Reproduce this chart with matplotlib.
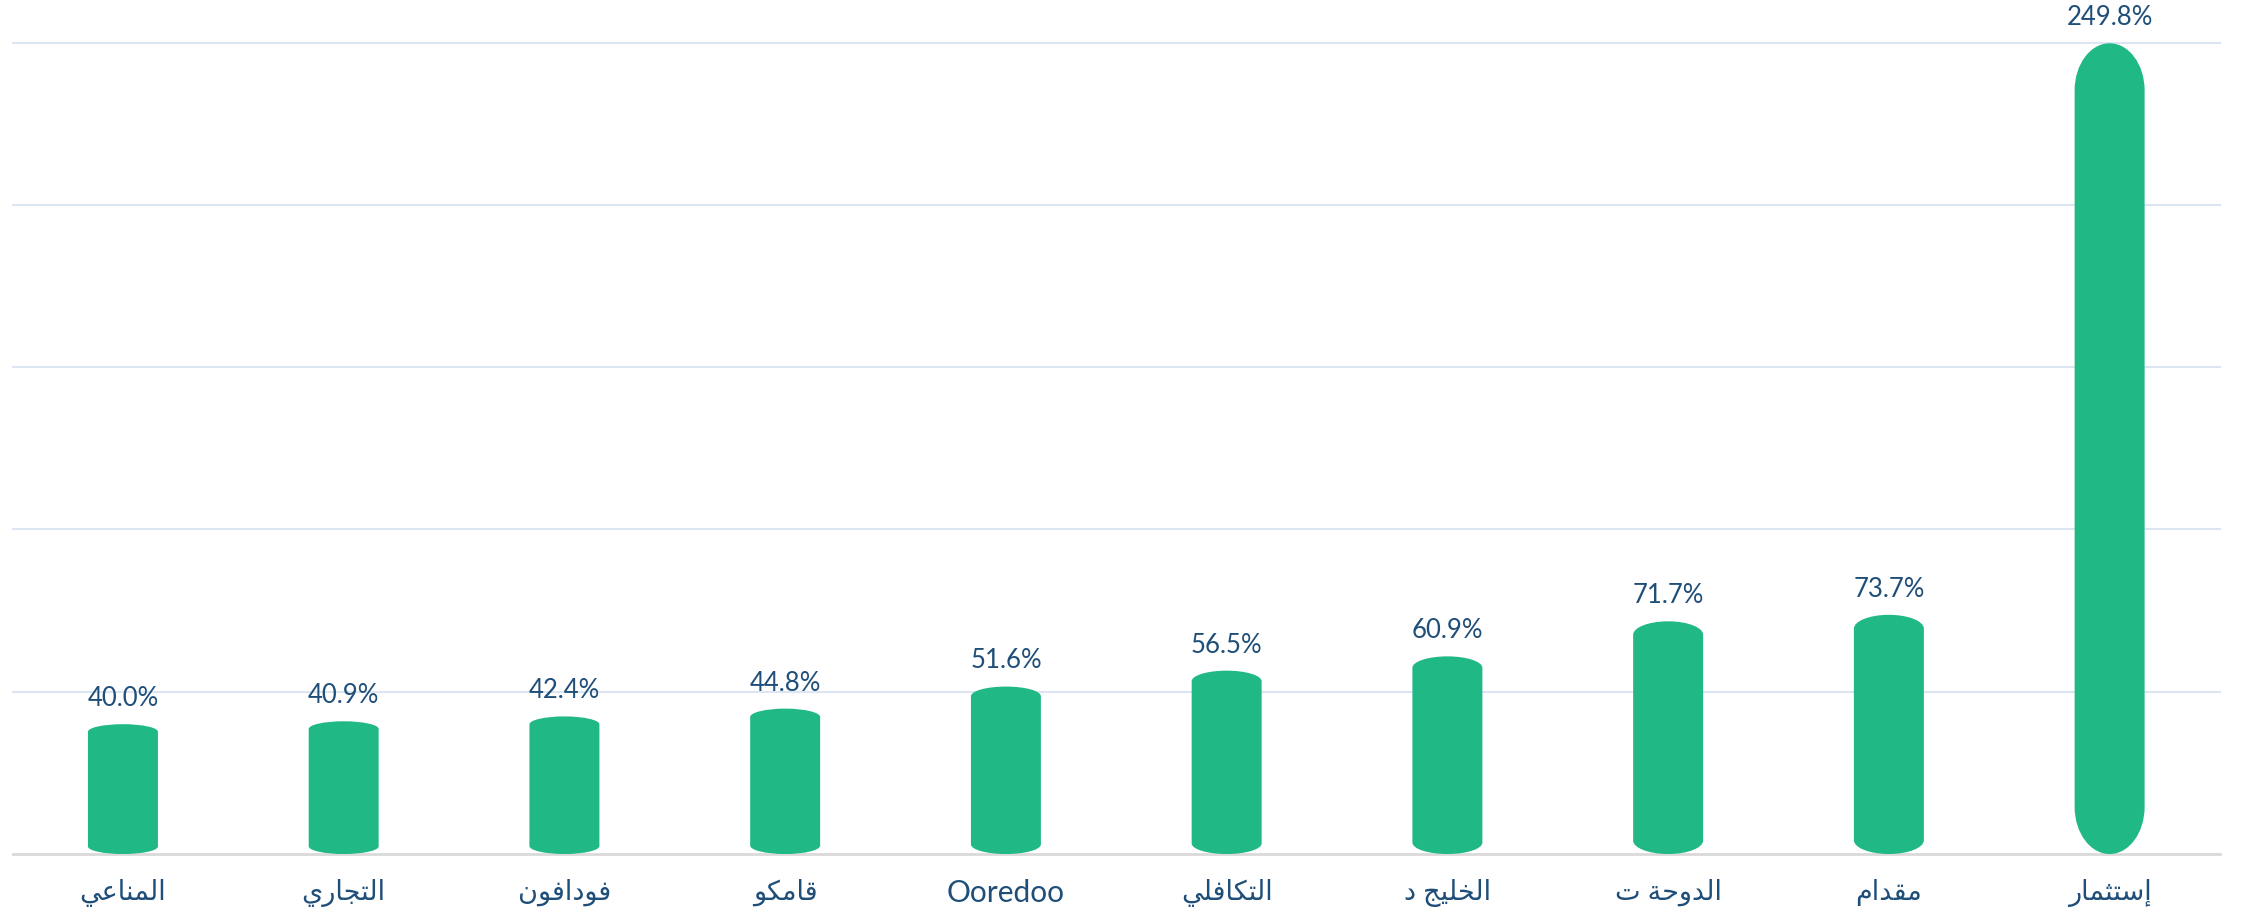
import matplotlib
matplotlib.use('Agg')
import matplotlib.pyplot as plt
from matplotlib.path import Path
from matplotlib.patches import PathPatch

# بيانات الرسم
labels = ['المناعي', 'التجاري', 'فودافون', 'قامكو', 'Ooredoo',
          'التكافلي', 'الخليج د', 'الدوحة ت', 'مقدام', 'إستثمار']
values = [40.0, 40.9, 42.4, 44.8, 51.6, 56.5, 60.9, 71.7, 73.7, 249.8]
grid_vals = [50, 100, 150, 200, 250]

BAR = "#20B884"
TXT = "#1F4E79"
GRID = "#DCE6F2"
FONT = ['Lato', 'DejaVu Sans']

# matplotlib doesn't shape arabic, so map letters to presentation forms by hand
# (iso, final, initial, medial)
AR = {
    'ا': ('\uFE8D', '\uFE8E', None, None),
    'إ': ('\uFE87', '\uFE88', None, None),
    'ة': ('\uFE93', '\uFE94', None, None),
    'ت': ('\uFE95', '\uFE96', '\uFE97', '\uFE98'),
    'ث': ('\uFE99', '\uFE9A', '\uFE9B', '\uFE9C'),
    'ج': ('\uFE9D', '\uFE9E', '\uFE9F', '\uFEA0'),
    'ح': ('\uFEA1', '\uFEA2', '\uFEA3', '\uFEA4'),
    'خ': ('\uFEA5', '\uFEA6', '\uFEA7', '\uFEA8'),
    'د': ('\uFEA9', '\uFEAA', None, None),
    'ر': ('\uFEAD', '\uFEAE', None, None),
    'س': ('\uFEB1', '\uFEB2', '\uFEB3', '\uFEB4'),
    'ع': ('\uFEC9', '\uFECA', '\uFECB', '\uFECC'),
    'ف': ('\uFED1', '\uFED2', '\uFED3', '\uFED4'),
    'ق': ('\uFED5', '\uFED6', '\uFED7', '\uFED8'),
    'ك': ('\uFED9', '\uFEDA', '\uFEDB', '\uFEDC'),
    'ل': ('\uFEDD', '\uFEDE', '\uFEDF', '\uFEE0'),
    'م': ('\uFEE1', '\uFEE2', '\uFEE3', '\uFEE4'),
    'ن': ('\uFEE5', '\uFEE6', '\uFEE7', '\uFEE8'),
    'و': ('\uFEED', '\uFEEE', None, None),
    'ي': ('\uFEF1', '\uFEF2', '\uFEF3', '\uFEF4'),
}


def is_arabic(s):
    return any(c in AR for c in s)


def shape(s):
    if not is_arabic(s):
        return s
    out = []
    for i, c in enumerate(s):
        if c not in AR:
            out.append(c)
            continue
        prev = s[i - 1] if i > 0 else ''
        nxt = s[i + 1] if i + 1 < len(s) else ''
        pj = prev in AR and AR[prev][2] is not None
        nj = nxt in AR and AR[c][2] is not None
        iso, fin, ini, med = AR[c]
        if pj and nj:
            out.append(med)
        elif pj:
            out.append(fin)
        elif nj:
            out.append(ini)
        else:
            out.append(iso)
    return ''.join(reversed(out))


def rounded_bar(ax, xc, h, w, k=0.058):
    K = 0.5523
    rx = w / 2
    ry = k * h
    x0, x1 = xc - rx, xc + rx
    verts = [(x0, ry), (x0, h - ry),
             (x0, h - ry + K * ry), (xc - K * rx, h), (xc, h),
             (xc + K * rx, h), (x1, h - ry + K * ry), (x1, h - ry),
             (x1, ry),
             (x1, ry - K * ry), (xc + K * rx, 0), (xc, 0),
             (xc - K * rx, 0), (x0, ry - K * ry), (x0, ry),
             (x0, ry)]
    codes = [Path.MOVETO, Path.LINETO,
             Path.CURVE4, Path.CURVE4, Path.CURVE4,
             Path.CURVE4, Path.CURVE4, Path.CURVE4,
             Path.LINETO,
             Path.CURVE4, Path.CURVE4, Path.CURVE4,
             Path.CURVE4, Path.CURVE4, Path.CURVE4,
             Path.CLOSEPOLY]
    ax.add_patch(PathPatch(Path(verts, codes), facecolor=BAR, edgecolor='none', zorder=3))


fig = plt.figure(figsize=(22.44, 9.13), dpi=100)
ax = fig.add_axes([0.0056, 0.0646, 0.9837, 0.8887])
ax.set_xlim(-0.5, len(values) - 0.5)
ax.set_ylim(0, 250)

for g in grid_vals:
    ax.axhline(g, color=GRID, lw=1.5, zorder=1, clip_on=False)

w = 0.317
for i, v in enumerate(values):
    rounded_bar(ax, i, v, w)
    ax.annotate(f"{v:.1f}%", (i, v), xytext=(0, 13), textcoords='offset points',
                ha='center', va='baseline', fontsize=18.5, color=TXT,
                family=FONT, annotation_clip=False)

for s in ['top', 'left', 'right']:
    ax.spines[s].set_visible(False)
ax.spines['bottom'].set_color('#D9D9D9')
ax.spines['bottom'].set_linewidth(2)
ax.set_yticks([])
ax.set_xticks(range(len(values)))
ax.set_xticklabels([shape(l) for l in labels], color=TXT, family=FONT)
for t, l in zip(ax.get_xticklabels(), labels):
    t.set_fontsize(19.5 if is_arabic(l) else 21.5)
ax.tick_params(axis='x', length=0, pad=18)

fig.savefig("out.png", dpi=100, facecolor='white')
